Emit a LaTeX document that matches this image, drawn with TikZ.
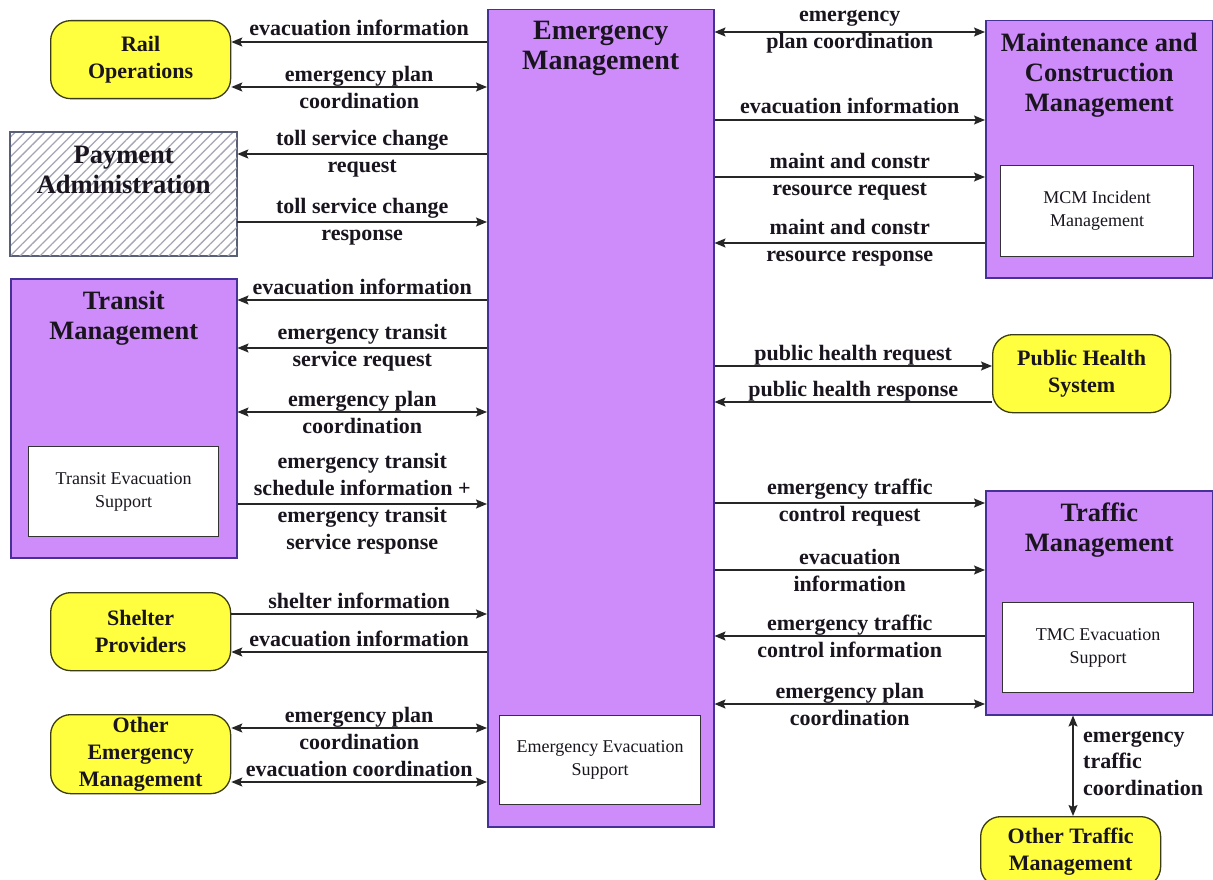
\documentclass[tikz,border=0pt]{standalone}
\usepackage{fontspec}
\setmainfont{Liberation Serif}
\usetikzlibrary{arrows.meta,patterns.meta,calc}
\definecolor{vio}{RGB}{205,140,250}
\definecolor{viob}{RGB}{70,50,150}
\definecolor{yel}{RGB}{255,255,64}
\definecolor{yelb}{RGB}{60,60,20}
\definecolor{txt}{RGB}{25,20,30}
\definecolor{hatchc}{RGB}{165,165,180}
\definecolor{hatchb}{RGB}{90,95,120}
\newcommand\lblfont{\fontsize{22}{27}\selectfont\bfseries}
\newcommand\vlblfont{\fontsize{22}{26.5}\selectfont\bfseries}
\newcommand\ttlfont{\fontsize{26.5}{30}\selectfont\bfseries}
\newcommand\emfont{\fontsize{28}{30}\selectfont\bfseries}
\newcommand\termfont{\fontsize{22}{27}\selectfont\bfseries}
\newcommand\subfont{\fontsize{18}{23}\selectfont}
\begin{document}
\begin{tikzpicture}[x=1pt,y=-1pt,
 sys/.style={draw=viob, fill=vio, line width=1.5pt, anchor=north west, inner sep=0pt},
 ttl/.style={font=\ttlfont, align=center, text=txt, anchor=north, inner sep=0pt},
 sub/.style={draw=black!80, fill=white, line width=1.3pt, font=\subfont, align=center, anchor=north west, inner sep=0pt, text=txt},
 term/.style={draw=yelb, fill=yel, line width=1.3pt, rounded corners=20pt, font=\termfont, align=center, anchor=north west, inner sep=0pt, text=txt},
 lbl/.style={font=\lblfont, align=center, text=txt, inner sep=0pt},
 lup/.style={lbl, anchor=base, yshift=6pt},
 tip/.tip={Stealth[length=11pt,width=9pt,inset=2pt]},
 flow/.style={line width=1.4pt, draw=black!85, -tip},
 flowb/.style={line width=1.4pt, draw=black!85, tip-tip},
]
\useasboundingbox (0,0) rectangle (1213,880);
\clip (0,0) rectangle (1213,880);
\fill[white] (0,0) rectangle (1213,880);

% Emergency Management
\node[sys, minimum width=226pt, minimum height=817pt] (em) at (487,9) {};
\node[ttl, font=\emfont] (emT) at ($(em.north)+(0,12)$) {Emergency\\Management};
\node[sub, minimum width=201pt, minimum height=89pt] (emS) at (499,715) {Emergency Evacuation\\Support};

% left side
\node[term, minimum width=180pt, minimum height=78pt] (rail) at (50,20) {Rail\\Operations};
\node[draw=hatchb, line width=1.3pt, fill=white, anchor=north west, inner sep=0pt,
      minimum width=226pt, minimum height=123pt] (pay) at (10,132) {};
\fill[pattern={Lines[angle=45,distance=7pt,line width=1.3pt]}, pattern color=hatchc]
   (pay.north west) rectangle (pay.south east);
\draw[draw=hatchb, line width=1.3pt] (pay.north west) rectangle (pay.south east);
\node[ttl] (payT) at ($(pay.north)+(0,14)$) {Payment\\Administration};
\node[sys, minimum width=226pt, minimum height=279pt] (tr) at (10,278) {};
\node[ttl] (trT) at ($(tr.north)+(0,13)$) {Transit\\Management};
\node[sub, minimum width=190pt, minimum height=90pt] (trS) at (28,446) {Transit Evacuation\\Support};
\node[term, minimum width=180pt, minimum height=78pt] (sh) at (50,592) {Shelter\\Providers};
\node[term, minimum width=180pt, minimum height=79pt] (oem) at (50,714) {Other\\Emergency\\Management};

% right side
\node[sys, minimum width=227pt, minimum height=257pt] (mcm) at (985,20) {};
\node[ttl] (mcmT) at ($(mcm.north)+(0,13)$) {Maintenance and\\Construction\\Management};
\node[sub, minimum width=193pt, minimum height=91pt] (mcmS) at (1000,165) {MCM Incident\\Management};
\node[term, minimum width=178pt, minimum height=78pt] (phs) at (992,334) {Public Health\\System};
\node[sys, minimum width=227pt, minimum height=224pt] (tm) at (985,490) {};
\node[ttl] (tmT) at ($(tm.north)+(0,13)$) {Traffic\\Management};
\node[sub, minimum width=191pt, minimum height=90pt] (tmS) at (1002,602) {TMC Evacuation\\Support};
\node[term, minimum width=180pt, minimum height=70pt] (otm) at (980,816) {Other Traffic\\Management};

% left connectors
\draw[flow] (em.west |- 0,42) -- node[lup]{evacuation information} (rail.east |- 0,42);
\draw[flowb] (rail.east |- 0,87) -- node[lbl]{emergency plan\\coordination} (em.west |- 0,87);
\draw[flow] (em.west |- 0,154) -- node[lbl]{toll service change\\request} (pay.east |- 0,154);
\draw[flow] (pay.east |- 0,222) -- node[lbl]{toll service change\\response} (em.west |- 0,222);
\draw[flow] (em.west |- 0,300) -- node[lup]{evacuation information} (tr.east |- 0,300);
\draw[flow] (em.west |- 0,348) -- node[lbl]{emergency transit\\service request} (tr.east |- 0,348);
\draw[flowb] (tr.east |- 0,412) -- node[lbl]{emergency plan\\coordination} (em.west |- 0,412);
\draw[flow] (tr.east |- 0,504) -- node[lbl]{emergency transit\\schedule information +\\emergency transit\\service response} (em.west |- 0,504);
\draw[flow] (sh.east |- 0,614) -- node[lup]{shelter information} (em.west |- 0,614);
\draw[flow] (em.west |- 0,652) -- node[lup]{evacuation information} (sh.east |- 0,652);
\draw[flowb] (oem.east |- 0,728) -- node[lbl]{emergency plan\\coordination} (em.west |- 0,728);
\draw[flowb] (oem.east |- 0,782) -- node[lup]{evacuation coordination} (em.west |- 0,782);

% right connectors
\draw[flowb] (em.east |- 0,32) -- node[lbl]{emergency\\plan coordination} (mcm.west |- 0,32);
\draw[flow] (em.east |- 0,120) -- node[lup]{evacuation information} (mcm.west |- 0,120);
\draw[flow] (em.east |- 0,177) -- node[lbl]{maint and constr\\resource request} (mcm.west |- 0,177);
\draw[flow] (mcm.west |- 0,243) -- node[lbl]{maint and constr\\resource response} (em.east |- 0,243);
\draw[flow] (em.east |- 0,366) -- node[lup]{public health request} (phs.west |- 0,366);
\draw[flow] (phs.west |- 0,402) -- node[lup]{public health response} (em.east |- 0,402);
\draw[flow] (em.east |- 0,503) -- node[lbl]{emergency traffic\\control request} (tm.west |- 0,503);
\draw[flow] (em.east |- 0,570) -- node[lbl]{evacuation\\information} (tm.west |- 0,570);
\draw[flow] (tm.west |- 0,636) -- node[lbl]{emergency traffic\\control information} (em.east |- 0,636);
\draw[flowb] (em.east |- 0,704) -- node[lbl]{emergency plan\\coordination} (tm.west |- 0,704);

% vertical
\coordinate (vx) at (1073,0);
\draw[flowb] (vx |- tm.south) -- (vx |- otm.north);
\node[lbl, font=\vlblfont, align=left, anchor=west] (vl) at (1083,763) {emergency\\traffic\\coordination};
\end{tikzpicture}
\end{document}
